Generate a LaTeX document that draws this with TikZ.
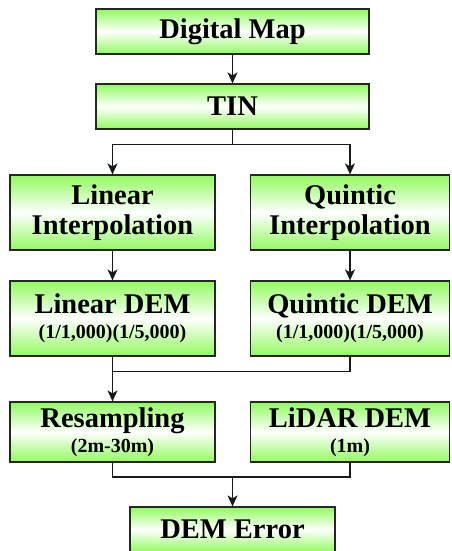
\documentclass[tikz,border=0pt]{standalone}
\usepackage{fontspec}
\setmainfont{Liberation Serif}
\usetikzlibrary{arrows.meta}
\definecolor{grn}{RGB}{145,250,95}
\begin{document}
\begin{tikzpicture}[x=1pt,y=-1pt,
  box/.style={draw=black!85, line width=1.2pt, top color=grn, bottom color=grn, middle color=white,
    inner sep=0pt, align=center, font=\bfseries\fontsize{28.5}{30}\selectfont},
  wide/.style={box, minimum width=273pt, minimum height=45pt},
  mid/.style={box, minimum width=205pt, minimum height=75pt},
  low/.style={box, minimum width=205pt, minimum height=60pt},
  conn/.style={line width=1.4pt, black!90},
  arr/.style={conn, -{Stealth[length=11pt,width=10pt,inset=3pt]}}]
\useasboundingbox (0,0) rectangle (451,551);
\newcommand{\subtxt}[1]{{\fontsize{20}{21}\selectfont #1}}
\node[wide] (dm) at (232.5,31.5) {Digital Map};
\node[wide] (tin) at (232.5,106.5) {TIN};
\node[mid] (li) at (112.5,212.5) {Linear\\Interpolation};
\node[mid, minimum width=199pt] (qi) at (350,212.5) {Quintic\\Interpolation};
\node[mid] (ldem) at (112.5,318.5) {Linear DEM\\[-5pt]\subtxt{(1/1,000)(1/5,000)}};
\node[mid, minimum width=199pt] (qdem) at (350,318.5) {Quintic DEM\\[-5pt]\subtxt{(1/1,000)(1/5,000)}};
\node[low] (res) at (112.5,432) {Resampling\\[-5pt]\subtxt{(2m-30m)}};
\node[low, minimum width=199pt] (lid) at (350,432) {LiDAR DEM\\[-5pt]\subtxt{(1m)}};
\node[box, minimum width=205pt, minimum height=45pt] (err) at (232.5,529.5) {DEM Error};
\draw[arr] (dm) -- (tin);
\draw[arr] (tin.south) -- ++(0,15) -| (li.north);
\draw[arr] (tin.south) -- ++(0,15) -| (qi.north);
\draw[arr] (li) -- (ldem);
\draw[arr] (qi) -- (qdem);
\path (ldem.south) ++(0,15) coordinate (j2);
\draw[arr] (ldem) -- (res);
\draw[conn] (qdem.south) |- (j2);
\coordinate (j3) at (232.5,477);
\draw[conn] (res.south) |- (j3);
\draw[conn] (lid.south) |- (j3);
\draw[arr] (j3) -- (err.north);
\end{tikzpicture}
\end{document}
